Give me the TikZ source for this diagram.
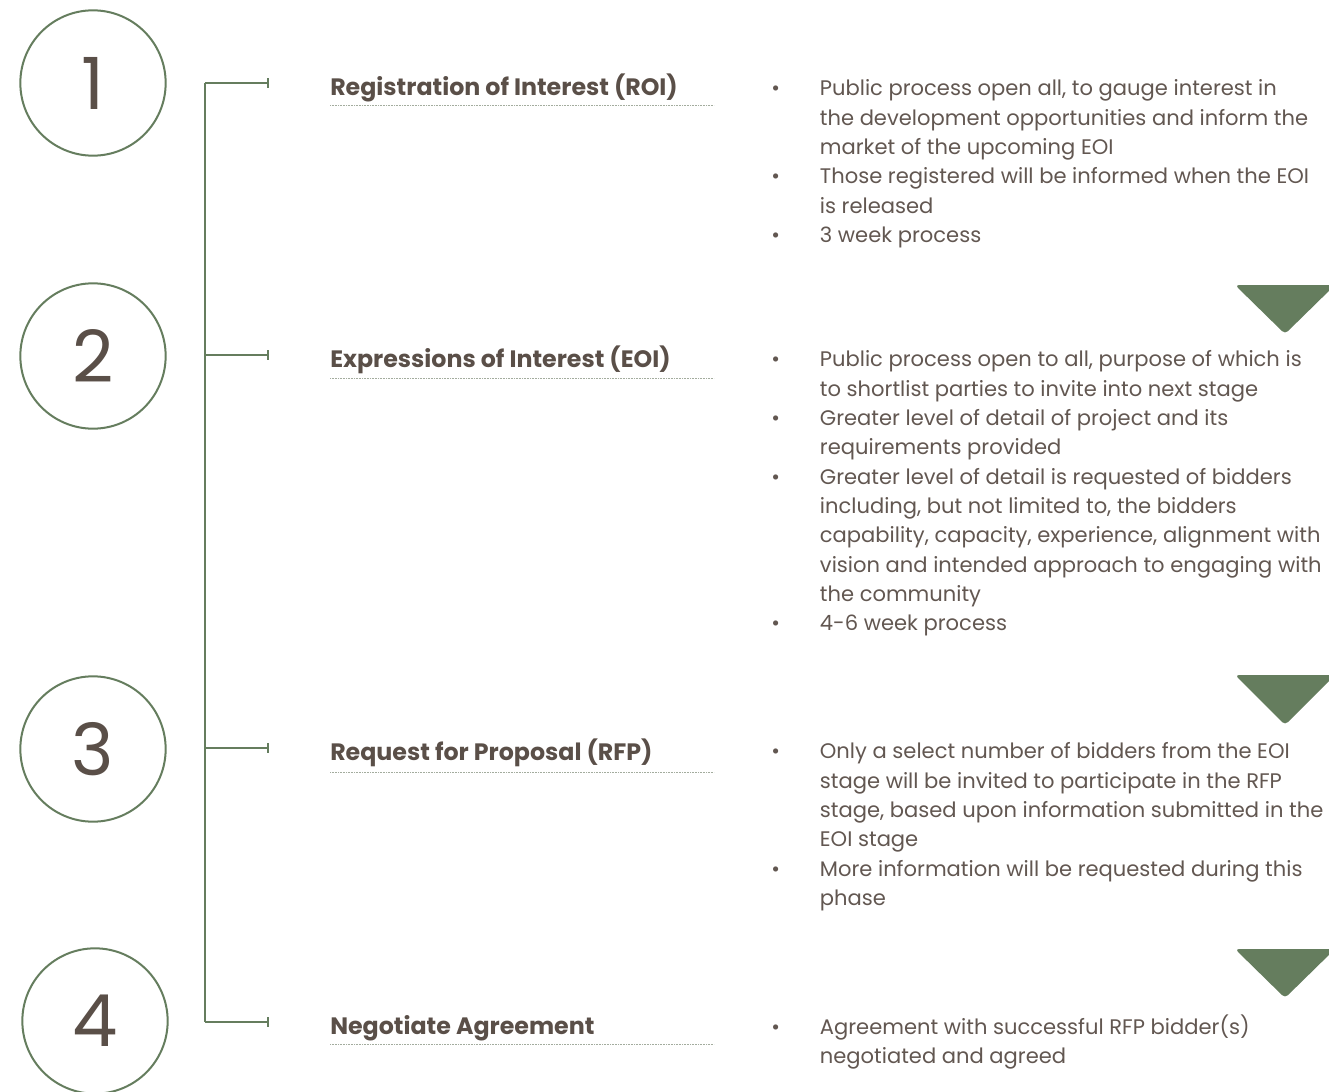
\documentclass[tikz,border=0pt]{standalone}
\usepackage{fontspec}
\setmainfont{Poppins}
\usetikzlibrary{arrows.meta}
\definecolor{sage}{HTML}{657D5E}
\definecolor{bark}{HTML}{5A4F48}
\definecolor{barklight}{HTML}{625751}
\definecolor{dotgrey}{HTML}{A3AC9E}

% bullet list used on the right of each stage
\newcommand{\stagelist}[1]{\parbox[t]{420pt}{\raggedright\fontsize{15.8}{22}\selectfont
  \begin{list}{\textbullet}{\setlength{\leftmargin}{36.5pt}\setlength{\labelwidth}{36.5pt}%
    \setlength{\labelsep}{0pt}\setlength{\itemsep}{0pt}\setlength{\parsep}{0pt}%
    \setlength{\topsep}{0pt}\renewcommand{\makelabel}[1]{##1\hfil}}#1\end{list}}}

\begin{document}
\begin{tikzpicture}[x=0.75pt, y=-0.75pt,
    numcircle/.style={circle, draw=sage, line width=1.5pt, minimum size=109pt, inner sep=0pt,
      text=bark, font=\fontsize{54}{54}\selectfont},
    spine/.style={sage, line width=1.5pt},
    tick/.style={sage, line width=1.5pt, -{Bar[width=7.5pt, line width=1.5pt]}},
    stagetitle/.style={anchor=base west, inner sep=0pt, text=bark, font=\bfseries\fontsize{17.8}{20}\selectfont},
    stagetext/.style={anchor=base west, inner sep=0pt, text=barklight},
    dotline/.style={dotgrey, line width=0.75pt, dash pattern=on 0.6pt off 0.6pt},
    marker/.style={sage, rounded corners=3pt}]
        \useasboundingbox (0, 0) rectangle (1329, 1092);

        % numbered circles
        \node[numcircle] (c1) at (93, 83) {1};
        \node[numcircle] (c2) at (93, 356) {2};
        \node[numcircle] (c3) at (93, 749) {3};
        \node[numcircle] (c4) at (95, 1021) {4};

        % bracket
        \coordinate (s1) at (205, 83);
        \coordinate (s2) at (205, 355);
        \coordinate (s3) at (205, 748);
        \coordinate (s4) at (205, 1022);
        \coordinate (k1) at (269, 83);
        \coordinate (k2) at (269, 355);
        \coordinate (k3) at (269, 748);
        \coordinate (k4) at (269, 1022);
        \draw[spine] (s1) -- (s4);
        \draw[tick] (s1) -- (k1);
        \draw[tick] (s2) -- (k2);
        \draw[tick] (s3) -- (k3);
        \draw[tick] (s4) -- (k4);

        % stage titles
        \node[stagetitle] (t1) at (330, 95) {Registration of Interest (ROI)};
        \node[stagetitle] (t2) at (330, 367) {Expressions of Interest (EOI)};
        \node[stagetitle] (t3) at (330, 760) {Request for Proposal (RFP)};
        \node[stagetitle] (t4) at (330, 1034) {Negotiate Agreement};
        \draw[dotline] (330, 105) -- (714, 105);
        \draw[dotline] (330, 378) -- (714, 378);
        \draw[dotline] (330, 772) -- (714, 772);
        \draw[dotline] (330, 1044) -- (714, 1044);

        % stage details
        \node[stagetext] (b1) at (771, 77) {\stagelist{%
          \item Public process open all, to gauge interest in\\ the development opportunities and inform the\\ market of the upcoming EOI
          \item Those registered will be informed when the EOI\\ is released
          \item 3 week process}};
        \node[stagetext] (b2) at (771, 348) {\stagelist{%
          \item Public process open to all, purpose of which is\\ to shortlist parties to invite into next stage
          \item Greater level of detail of project and its\\ requirements provided
          \item Greater level of detail is requested of bidders\\ including, but not limited to, the bidders\\ capability, capacity, experience, alignment with\\ vision and intended approach to engaging with\\ the community
          \item 4-6 week process}};
        \node[stagetext] (b3) at (771, 740) {\stagelist{%
          \item Only a select number of bidders from the EOI\\ stage will be invited to participate in the RFP\\ stage, based upon information submitted in the\\ EOI stage
          \item More information will be requested during this\\ phase}};
        \node[stagetext] (b4) at (771, 1012) {\stagelist{%
          \item Agreement with successful RFP bidder(s)\\ negotiated and agreed}};

        % down markers
        \fill[marker] (1235, 285) -- (1335, 285) -- (1285, 334) -- cycle;
        \fill[marker] (1235, 675) -- (1335, 675) -- (1285, 725) -- cycle;
        \fill[marker] (1235, 949) -- (1335, 949) -- (1285, 998) -- cycle;
      \end{tikzpicture}
\end{document}
